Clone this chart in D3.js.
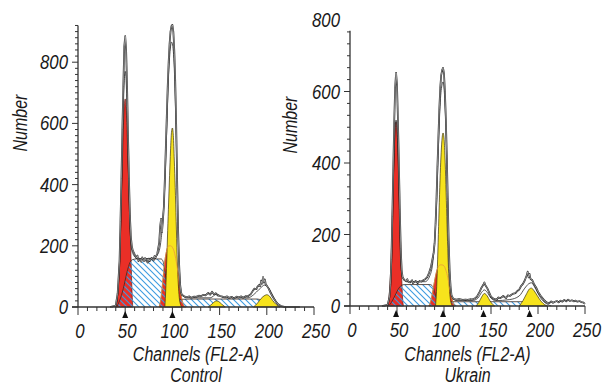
<!DOCTYPE html>
<html>
<head>
<meta charset="utf-8">
<script src="https://cdn.jsdelivr.net/npm/d3@7"></script>
<style>
  html, body { margin: 0; padding: 0; background: #fff; }
  svg { display: block; }
  .lbl { font-family: "Liberation Sans", Arial, sans-serif; font-style: italic; fill: #1a1a1a; }
</style>
</head>
<body>
<svg id="chart" width="603" height="386"></svg>
<script>
// y tick labels and x tick labels (both panels)
const yLabels = [0, 200, 400, 600, 800];
const xLabels = [0, 50, 100, 150, 200, 250];

// ---- Control ----  [channel, count]
const ctrlHist = [[34,0],[40,5],[42,45],[44,150],[45,280],[46,420],[47,580],[48,720],[49,850],[50,885],[51,840],[52,720],[53,560],[54,420],[55,300],[56,230],[57,200],[58,185],[60,172],[62,160],[63,168],[64,150],[66,156],[67,148],[68,162],[70,150],[71,160],[72,152],[74,145],[75,158],[76,150],[78,160],[80,152],[81,166],[82,160],[84,175],[86,210],[87,262],[88,288],[89,245],[90,285],[91,330],[92,420],[93,520],[94,620],[95,720],[96,800],[97,860],[98,900],[99,918],[100,922],[101,900],[102,840],[103,740],[104,600],[105,420],[106,260],[107,150],[108,80],[109,50],[110,40],[112,36],[115,32],[118,35],[120,30],[123,34],[125,33],[128,37],[130,35],[133,40],[135,38],[138,46],[140,40],[142,50],[144,42],[146,45],[148,38],[150,36],[153,34],[155,32],[158,35],[160,30],[163,33],[165,28],[168,34],[170,31],[173,35],[175,30],[178,36],[180,35],[183,42],[185,52],[187,60],[189,58],[190,66],[192,72],[193,68],[194,86],[195,76],[196,98],[197,80],[198,90],[199,72],[200,70],[202,60],[204,46],[206,35],[208,25],[210,16],[212,9],[215,3],[220,0],[235,0]];
const ctrlFit = [[36,0],[40,5],[43,80],[45,240],[46,380],[47,520],[48,650],[49,740],[50,770],[51,740],[52,640],[53,500],[54,370],[55,270],[56,210],[58,175],[62,160],[70,158],[80,160],[85,175],[88,220],[90,290],[92,400],[94,580],[96,760],[98,850],[99,866],[100,860],[102,780],[104,560],[105,400],[106,250],[108,90],[110,40],[115,30],[140,30],[147,42],[155,30],[180,30],[186,40],[192,58],[198,72],[202,62],[206,40],[210,16],[215,3],[220,0]];
const ctrlRed1 = [[40,0],[42,40],[44,150],[46,360],[47,470],[48,580],[49,660],[50,680],[51,650],[52,570],[53,470],[54,380],[55,290],[56,180],[57,70],[58,0]];
const ctrlRed2 = [[86,0],[88,30],[90,90],[92,150],[94,185],[96,200],[98,200],[100,195],[102,180],[104,150],[106,110],[108,60],[110,25],[112,5],[114,0]];
const ctrlSPhase = [[41,0],[44,20],[48,60],[52,115],[55,145],[58,155],[62,157],[88,157],[90,150],[92,120],[94,70],[96,30],[98,12],[101,8],[104,18],[108,25],[120,26],[190,26],[195,22],[200,15],[205,5],[210,0]];
const ctrlYellow = [[[92,0],[93,60],[94,150],[95,250],[96,340],[97,430],[98,510],[99,570],[100,585],[101,560],[102,480],[103,390],[104,280],[105,170],[106,90],[107,40],[108,15],[110,0]],
                    [[138,0],[142,10],[145,18],[147,20],[149,18],[152,10],[156,0]],
                    [[186,0],[190,12],[194,28],[198,38],[200,40],[203,35],[206,22],[210,8],[214,0]]];
const ctrlMarks = [50, 100];

// ---- Ukrain ----
const ukrHist = [[34,0],[40,3],[42,25],[43,60],[44,130],[45,250],[46,380],[47,510],[48,610],[49,652],[50,620],[51,520],[52,400],[53,270],[54,160],[55,100],[56,80],[58,72],[60,70],[61,75],[62,68],[64,66],[66,72],[67,64],[68,66],[70,70],[72,64],[74,70],[76,68],[78,72],[80,75],[82,80],[84,92],[86,108],[88,135],[89,150],[90,175],[91,230],[92,300],[93,390],[94,470],[95,550],[96,610],[97,645],[98,660],[99,666],[100,650],[101,600],[102,520],[103,420],[104,300],[105,180],[106,100],[107,55],[108,30],[110,20],[113,18],[116,19],[120,17],[123,18],[125,17],[128,19],[130,18],[133,22],[135,26],[138,40],[140,52],[142,60],[143,66],[144,58],[146,50],[148,38],[150,26],[153,20],[156,18],[158,24],[160,22],[163,28],[166,22],[168,30],[170,28],[173,34],[176,36],[178,42],[180,46],[182,56],[184,62],[186,72],[188,86],[189,96],[190,80],[191,90],[192,76],[194,72],[196,60],[198,52],[200,40],[203,28],[206,18],[209,10],[212,8],[214,13],[216,9],[218,12],[220,14],[222,10],[224,15],[226,12],[228,17],[230,13],[232,18],[234,14],[236,16],[238,13],[240,15],[242,12],[244,14],[246,11],[248,10],[250,6]];
const ukrFit = [[36,0],[40,3],[43,50],[45,200],[46,330],[47,430],[48,500],[49,520],[50,500],[51,430],[52,320],[53,200],[54,120],[56,80],[60,68],[80,68],[85,85],[88,120],[90,180],[92,280],[94,440],[96,570],[98,620],[99,627],[100,610],[102,500],[104,280],[105,170],[106,90],[108,30],[112,16],[130,15],[136,22],[140,38],[143,45],[146,38],[150,22],[155,15],[170,18],[180,28],[186,50],[190,62],[193,65],[196,55],[200,35],[205,15],[210,5],[214,0]];
const ukrRed1 = [[40,0],[42,40],[44,150],[45,250],[46,350],[47,430],[48,495],[49,515],[50,490],[51,430],[52,350],[53,250],[54,160],[55,80],[56,20],[57,0]];
const ukrRed2 = [[84,0],[86,15],[88,40],[90,70],[92,95],[94,110],[96,115],[98,115],[100,112],[102,100],[104,80],[106,50],[108,25],[110,8],[112,0]];
const ukrSPhase = [[41,0],[44,10],[48,30],[52,50],[55,58],[58,60],[85,60],[88,55],[90,40],[92,20],[94,8],[97,3],[100,3],[104,8],[108,12],[185,12],[190,10],[196,5],[200,0]];
const ukrYellow = [[[91,0],[92,40],[93,110],[94,200],[95,290],[96,370],[97,430],[98,470],[99,484],[100,470],[101,420],[102,340],[103,250],[104,160],[105,90],[106,40],[107,15],[109,0]],
                   [[134,0],[137,10],[140,25],[143,35],[146,28],[149,14],[152,4],[154,0]],
                   [[180,0],[184,15],[188,35],[191,48],[193,50],[196,42],[199,30],[203,14],[207,4],[210,0]]];
const ukrMarks = [49, 99, 142, 191];

const svg = d3.select('#chart');
const narrow = 0.8; // the original uses a condensed face

// blue hatch pattern, "\" direction
const defs = svg.append('defs');
const pat = defs.append('pattern')
  .attr('id', 'hatch')
  .attr('patternUnits', 'userSpaceOnUse')
  .attr('width', 6).attr('height', 6);
pat.append('path')
  .attr('d', 'M0,0 L6,6 M-1,5 L1,7 M5,-1 L7,1')
  .attr('stroke', '#3d9be0')
  .attr('stroke-width', 1.1);

function label(g, x, y, txt, size, anchor, rot) {
  g.append('text').attr('class', 'lbl')
    .attr('transform', `translate(${x},${y})${rot ? ' rotate(' + rot + ')' : ''} scale(${narrow},1)`)
    .attr('text-anchor', anchor).attr('font-size', size)
    .text(txt);
}

function drawPanel(p) {
  const x = d3.scaleLinear().domain([0, 250]).range(p.xRange);
  const y = d3.scaleLinear().domain([0, 800]).range(p.yRange);
  const g = svg.append('g');

  const area = d3.area()
    .x(d => x(d[0])).y0(y(0)).y1(d => y(d[1]))
    .curve(d3.curveMonotoneX);
  const line = d3.line()
    .x(d => x(d[0])).y(d => y(d[1]))
    .curve(d3.curveMonotoneX);

  // G1 (red)
  g.append('path').datum(p.red1)
    .attr('d', area).attr('fill', '#ea2f27')
    .attr('stroke', '#5a1a14').attr('stroke-width', 0.7);
  // second red component under the G2 peak
  g.append('path').datum(p.red2)
    .attr('d', area).attr('fill', '#ea2f27')
    .attr('stroke', '#5a1a14').attr('stroke-width', 0.6);

  // S phase (hatched)
  g.append('path').datum(p.sPhase)
    .attr('d', area).attr('fill', 'url(#hatch)');
  g.append('path').datum(p.sPhase)
    .attr('d', line).attr('fill', 'none')
    .attr('stroke', '#3a2a22').attr('stroke-width', 0.8);

  // yellow peaks
  p.yellow.forEach(pk => {
    g.append('path').datum(pk)
      .attr('d', area).attr('fill', '#f7e31c')
      .attr('stroke', '#3a3010').attr('stroke-width', 0.7);
  });
  // red2 outline seen through the yellow
  g.append('path').datum(p.red2)
    .attr('d', line).attr('fill', 'none')
    .attr('stroke', '#e89a3c').attr('stroke-width', 0.8);

  // model fit and data histogram (drawn as a double line)
  g.append('path').datum(p.fit)
    .attr('d', line).attr('fill', 'none')
    .attr('stroke', '#2a2a2a').attr('stroke-width', 0.8);
  const histLine = d3.line().x(d => x(d[0])).y(d => y(d[1]));
  g.append('path').datum(p.hist)
    .attr('d', histLine).attr('fill', 'none')
    .attr('stroke', '#1a1a1a').attr('stroke-width', 1.7)
    .attr('stroke-linejoin', 'round');
  g.append('path').datum(p.hist)
    .attr('d', histLine).attr('fill', 'none')
    .attr('stroke', '#fff').attr('stroke-width', 0.5)
    .attr('stroke-linejoin', 'round');

  // axes
  const ax = '#333';
  g.append('line')
    .attr('x1', x(0)).attr('x2', x(0))
    .attr('y1', y(0)).attr('y2', y(p.yTop))
    .attr('stroke', ax).attr('stroke-width', 1.3);
  g.append('line')
    .attr('x1', x(0) - 6).attr('x2', x(250))
    .attr('y1', y(0)).attr('y2', y(0))
    .attr('stroke', ax).attr('stroke-width', 1.3);

  // y ticks: p.yPer minor steps between labelled values
  const step = 200 / p.yPer;
  d3.range(0, Math.floor(p.yTop / step) + 1).forEach(i => {
    const v = i * step;
    const major = i % p.yPer === 0;
    g.append('line')
      .attr('x1', x(0) - (major ? 6 : 3)).attr('x2', x(0))
      .attr('y1', y(v)).attr('y2', y(v))
      .attr('stroke', ax).attr('stroke-width', 1);
  });
  // x ticks
  d3.range(0, 251, 10).forEach(v => {
    const major = xLabels.includes(v);
    g.append('line')
      .attr('x1', x(v)).attr('x2', x(v))
      .attr('y1', y(0)).attr('y2', y(0) + (major ? 8 : 4))
      .attr('stroke', ax).attr('stroke-width', 1);
  });

  // peak markers
  p.marks.forEach(m => {
    const cx = x(m), cy = y(0) + 4;
    g.append('path')
      .attr('d', `M${cx - 3},${cy + 7}L${cx},${cy}L${cx + 3},${cy + 7}Z`)
      .attr('fill', '#111');
  });

  // tick labels
  yLabels.forEach(v => label(g, x(0) - 10, y(v) + 7, v, 21, 'end'));
  xLabels.forEach(v => label(g, x(v) + 2, y(0) + 31, v, 21, 'middle'));

  // axis titles
  label(g, p.numX, p.numY, 'Number', 20, 'middle', -90);
  const midX = (x(0) + x(250)) / 2;
  label(g, midX, 361, 'Channels (FL2-A)', 20, 'middle');
  label(g, midX, 382, p.title, 20, 'middle');
}

drawPanel({
  xRange: [78, 314], yRange: [307, 62.2], yTop: 920, yPer: 10,
  hist: ctrlHist, fit: ctrlFit, red1: ctrlRed1, red2: ctrlRed2,
  sPhase: ctrlSPhase, yellow: ctrlYellow, marks: ctrlMarks,
  numX: 27, numY: 123, title: 'Control'
});
drawPanel({
  xRange: [350, 585], yRange: [306, 20], yTop: 770, yPer: 6,
  hist: ukrHist, fit: ukrFit, red1: ukrRed1, red2: ukrRed2,
  sPhase: ukrSPhase, yellow: ukrYellow, marks: ukrMarks,
  numX: 297, numY: 125, title: 'Ukrain'
});
</script>
</body>
</html>
